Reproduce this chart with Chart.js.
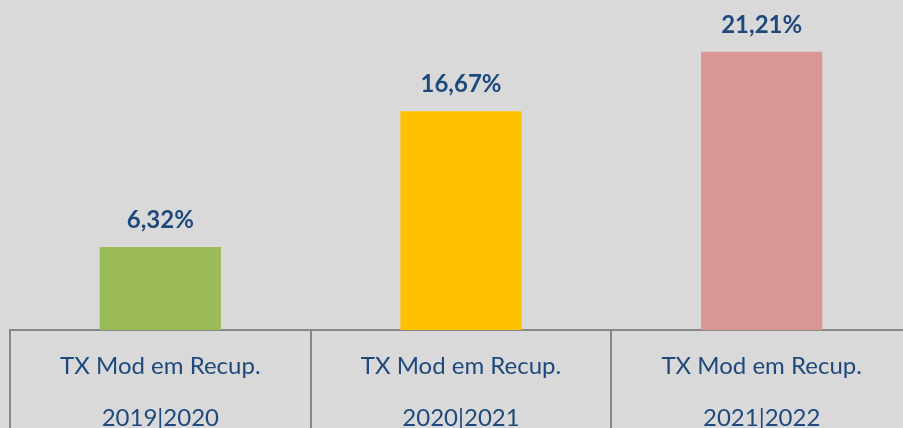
<!DOCTYPE html>
<html>
<head>
<meta charset="utf-8">
<script src="https://cdn.jsdelivr.net/npm/chart.js@4.4.0/dist/chart.umd.min.js"></script>
<style>
    html, body { margin: 0; padding: 0; background: #d9d9d9; overflow: hidden; }
    #wrap { width: 912px; height: 428px; position: relative; }
</style>
</head>
<body>
<div id="wrap"><canvas id="taxaChart"></canvas></div>
<script>
const categories = [
    ['TX Mod em Recup.', '2019|2020'],
    ['TX Mod em Recup.', '2020|2021'],
    ['TX Mod em Recup.', '2021|2022']
];
const taxaValues = [6.32, 16.67, 21.21];
const barColors = ['#9bbb59', '#ffc000', '#d99694'];

const textColor = '#1f497d';

// draws the percentage above each bar, from the bar element positions
const valueLabels = {
    id: 'valueLabels',
    afterDatasetsDraw(chart) {
        const ctx = chart.ctx;
        const meta = chart.getDatasetMeta(0);
        ctx.save();
        ctx.fillStyle = textColor;
        ctx.font = 'bold 24px Lato';
        ctx.textAlign = 'center';
        ctx.textBaseline = 'alphabetic';
        meta.data.forEach((bar, i) => {
            const txt = taxaValues[i].toFixed(2).replace('.', ',') + '%';
            ctx.fillText(txt, bar.x, bar.y - 19);
        });
        ctx.restore();
    }
};

const ctx = document.getElementById('taxaChart').getContext('2d');

new Chart(ctx, {
    type: 'bar',
    data: {
        labels: categories,
        datasets: [{
            data: taxaValues,
            backgroundColor: barColors,
            categoryPercentage: 1,
            barPercentage: 0.403
        }]
    },
    options: {
        responsive: true,
        maintainAspectRatio: false,
        animation: false,
        layout: {
            padding: { left: 10, top: 2, right: 0, bottom: 0 }
        },
        scales: {
            x: {
                grid: {
                    offset: true,
                    drawOnChartArea: false,
                    drawTicks: true,
                    tickLength: 98,
                    color: '#878787',
                    lineWidth: 2
                },
                border: {
                    display: true,
                    color: '#878787',
                    width: 2
                },
                ticks: {
                    color: textColor,
                    padding: -88,
                    maxRotation: 0,
                    font: { family: 'Lato', size: 24, lineHeight: '52px' }
                },
                afterFit(scale) {
                    scale.height = 98;
                }
            },
            y: {
                display: false,
                min: 0,
                max: 25
            }
        },
        plugins: {
            legend: { display: false },
            tooltip: { enabled: false }
        }
    },
    plugins: [valueLabels]
});
</script>
</body>
</html>
